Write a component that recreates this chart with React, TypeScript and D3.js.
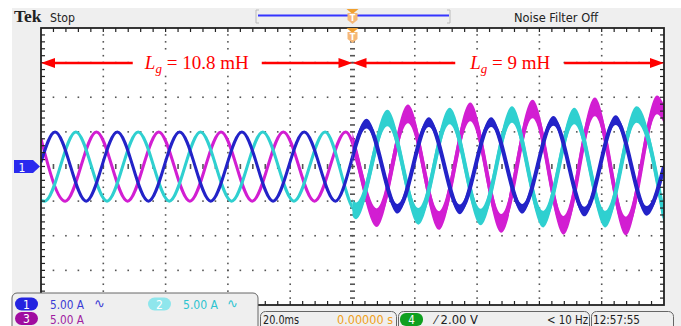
import React from "react";
import * as d3 from "d3";

// phase currents, [time ms, current A] at the read-off extremes
const ch1Blue: [number, number][] = [
  [0, 0.6], [4.5, 5.0], [14.5, -5.0], [24.5, 5.0], [34.5, -5.0], [44.5, 5.0],
  [54.5, -5.0], [64.5, 5.0], [74.5, -5.0], [84.5, 5.0], [94.5, -5.0],
  [104.5, 6.2], [114.5, -6.1], [124.5, 6.4], [134.5, -6.2], [144.5, 6.4],
  [154.5, -6.1], [164.5, 6.6], [174.5, -6.5], [184.5, 6.7], [194.5, -6.4], [200, 0],
];
const ch2Cyan: [number, number][] = [
  [0, -4.9], [1.2, -5.0], [11.2, 5.0], [21.2, -5.0], [31.2, 5.0], [41.2, -5.0],
  [51.2, 5.0], [61.2, -5.0], [71.2, 5.0], [81.2, -5.0], [91.2, 5.0],
  [101.2, -6.4], [111.2, 7.0], [121.2, -7.2], [131.2, 7.3], [141.2, -7.3],
  [151.2, 7.5], [161.2, -7.6], [171.2, 7.3], [181.2, -7.6], [191.2, 7.5], [200, -7.3],
];
const ch3Magenta: [number, number][] = [
  [0, 4.0], [7.8, -5.0], [17.8, 5.0], [27.8, -5.0], [37.8, 5.0], [47.8, -5.0],
  [57.8, 5.0], [67.8, -5.0], [77.8, 5.0], [87.8, -5.0], [97.8, 5.0],
  [107.8, -7.4], [117.8, 7.6], [127.8, -7.8], [137.8, 7.9], [147.8, -8.2],
  [157.8, 8.3], [167.8, -8.5], [177.8, 8.6], [187.8, -8.6], [197.8, 8.9], [200, 7.6],
];
// switching ripple (half band, A) after the step
const rippleAfter = [0.7, 1.2, 1.35]; // blue, cyan, magenta

const switchTime = 100; // ms, Lg step
const leftLabel = "10.8 mH";
const rightLabel = "9 mH";
const channelScale = ["5.00 A", "5.00 A", "5.00 A"];
const timeBase = "20.0ms";
const trigDelay = "0.00000 s";
const trigLevel = "2.00 V";
const freqText = "< 10 Hz";
const clockText = "12:57:55";

const BLUE = "#2323c8";
const CYAN = "#2fd0d0";
const MAGENTA = "#d21ed2";
const RED = "#ff0000";
const UI = "'Liberation Sans Narrow', 'DejaVu Sans Condensed', 'Liberation Sans', sans-serif";

export default function App() {
  const x = d3.scaleLinear().domain([0, 200]).range([41, 664]);
  const y = d3.scaleLinear().domain([-20, 20]).range([305, 28]);
  const line = d3
    .line<[number, number]>()
    .x((d) => x(d[0]))
    .y((d) => y(d[1]))
    .curve(d3.curveMonotoneX);
  const band = (r: number) =>
    d3
      .area<[number, number]>()
      .x((d) => x(d[0]))
      .y0((d) => y(d[1] - r))
      .y1((d) => y(d[1] + r))
      .curve(d3.curveMonotoneX);

  const majorX = d3.range(20, 200, 20).filter((v) => v !== 100);
  const majorY = d3.range(-15, 16, 5).filter((v) => v !== 0);
  const minorX = d3.range(4, 200, 4);
  const minorY = d3.range(-19, 20, 1);
  const [x0, x1] = x.range();
  const [yb, yt] = y.range();
  const xs = x(switchTime);

  const traces = [
    { d: ch3Magenta, c: MAGENTA, r: rippleAfter[2] },
    { d: ch2Cyan, c: CYAN, r: rippleAfter[1] },
    { d: ch1Blue, c: BLUE, r: rippleAfter[0] },
  ];

  const marker = (ty: number) => (
    <g>
      <polygon points={`${xs - 6},${ty} ${xs + 6},${ty} ${xs},${ty + 5}`} fill="#f0a030" />
      <polygon
        points={`${xs - 5},${ty + 4} ${xs + 5},${ty + 4} ${xs + 5},${ty + 11} ${xs},${ty + 15} ${xs - 5},${ty + 11}`}
        fill="#f5b878"
      />
      <text x={xs} y={ty + 12} fontSize={9} fill="#fff" textAnchor="middle" fontFamily={UI} fontWeight="bold">T</text>
    </g>
  );

  const pill = (px: number, py: number, fill: string, label: string) => (
    <g>
      <rect x={px} y={py} width={23} height={13} rx={6.5} fill={fill} />
      <text x={px + 11.5} y={py + 11} fontSize={12} fill="#fff" textAnchor="middle" fontFamily={UI}>{label}</text>
    </g>
  );

  const leftMid = (x0 + xs) / 2;
  const rightMid = (xs + x1) / 2;
  const ay = 63;
  const arrow = (tip: number, dir: number) =>
    `${tip},${ay} ${tip - dir * 14},${ay - 5} ${tip - dir * 14},${ay + 5}`;

  return (
    <svg width={681} height={326} style={{ position: "absolute", left: 0, top: 0 }} fontFamily={UI}>
      <defs>
        <clipPath id="pre"><rect x={x0} y={yt} width={xs - x0} height={yb - yt} /></clipPath>
        <clipPath id="post"><rect x={xs} y={yt} width={x1 - xs} height={yb - yt} /></clipPath>
      </defs>
      <rect width={681} height={326} fill="#fff" />
      <rect x={12} y={8} width={669} height={318} fill="#efefef" />
      <rect x={x0} y={yt} width={x1 - x0} height={yb - yt} fill="#fff" />

      {/* header */}
      <text x={14} y={21.5} fontSize={17.5} fontWeight="bold" fontFamily="'Liberation Serif', serif" fill="#222">Tek</text>
      <text x={50} y={21.5} fontSize={13} fill="#222" textLength={25} lengthAdjust="spacingAndGlyphs">Stop</text>
      <text x={514} y={21.5} fontSize={13} fill="#222" textLength={84} lengthAdjust="spacingAndGlyphs">Noise Filter Off</text>
      <path d="M259,10 h-3 v13 h3 M447,10 h3 v13 h-3" fill="none" stroke="#bbb" strokeWidth={1} />
      <line x1={258} x2={449} y1={15.5} y2={15.5} stroke="#3535ff" strokeWidth={2} />
      {marker(9)}

      {/* graticule */}
      <g fill="#555">
        {majorX.map((gx) =>
          minorY.map((gy) => <rect key={`v${gx}_${gy}`} x={x(gx) - 0.8} y={y(gy) - 0.8} width={1.6} height={1.6} />)
        )}
        {majorY.map((gy) =>
          minorX.map((gx) => <rect key={`h${gx}_${gy}`} x={x(gx) - 0.8} y={y(gy) - 0.8} width={1.6} height={1.6} />)
        )}
        {minorY.map((gy) => <rect key={`cv${gy}`} x={xs - 2.5} y={y(gy) - 0.8} width={5} height={1.6} />)}
        {minorX.map((gx) => <rect key={`ch${gx}`} x={x(gx) - 0.8} y={y(0) - 2.5} width={1.6} height={5} />)}
      </g>

      {/* traces */}
      {traces.map((t, i) => (
        <g key={i}>
          <path d={line(t.d) ?? ""} fill="none" stroke={t.c} strokeWidth={3} clipPath="url(#pre)" />
          <g clipPath="url(#post)">
            <path d={band(t.r)(t.d) ?? ""} fill={t.c} />
            <path d={line(t.d) ?? ""} fill="none" stroke={t.c} strokeWidth={4} />
          </g>
        </g>
      ))}

      <g stroke="#222" strokeWidth={1.2}>
        {minorX.map((gx) => (
          <g key={`bx${gx}`}>
            <line x1={x(gx)} x2={x(gx)} y1={yt} y2={yt + 4} />
            <line x1={x(gx)} x2={x(gx)} y1={yb} y2={yb - 4} />
          </g>
        ))}
        {minorY.map((gy) => (
          <g key={`by${gy}`}>
            <line x1={x0} x2={x0 + 4} y1={y(gy)} y2={y(gy)} />
            <line x1={x1} x2={x1 - 4} y1={y(gy)} y2={y(gy)} />
          </g>
        ))}
      </g>
      <rect x={x0} y={yt} width={x1 - x0} height={yb - yt} fill="none" stroke="#222" strokeWidth={1.8} />
      {marker(28)}

      {/* channel 1 ground marker */}
      <polygon points={`14,${y(0) - 6.5} 33,${y(0) - 6.5} 40,${y(0)} 33,${y(0) + 6.5} 14,${y(0) + 6.5}`} fill="#2a2aee" />
      <text x={22} y={y(0) + 5} fontSize={12} fill="#fff" textAnchor="middle">1</text>

      {/* inductance annotation */}
      <rect x={leftMid - 60} y={ay - 12} width={120} height={24} fill="#fff" />
      <rect x={rightMid - 48} y={ay - 12} width={100} height={24} fill="#fff" />
      <g stroke={RED} strokeWidth={2.6}>
        <line x1={x0 + 12} x2={leftMid - 64} y1={ay} y2={ay} />
        <line x1={leftMid + 65} x2={xs - 12} y1={ay} y2={ay} />
        <line x1={xs + 12} x2={rightMid - 53} y1={ay} y2={ay} />
        <line x1={rightMid + 56} x2={x1 - 12} y1={ay} y2={ay} />
      </g>
      <g fill={RED}>
        <polygon points={arrow(x0, -1)} />
        <polygon points={arrow(xs, 1)} />
        <polygon points={arrow(xs, -1)} />
        <polygon points={arrow(x1, 1)} />
      </g>
      <g fill={RED} fontFamily="'Liberation Serif', serif" fontSize={19}>
        <text x={leftMid} y={ay + 6} textAnchor="middle">
          <tspan fontStyle="italic">L</tspan>
          <tspan fontStyle="italic" fontSize={13} dy={4}>g</tspan>
          <tspan dy={-4}>{` = ${leftLabel}`}</tspan>
        </text>
        <text x={rightMid + 2} y={ay + 6} textAnchor="middle">
          <tspan fontStyle="italic">L</tspan>
          <tspan fontStyle="italic" fontSize={13} dy={4}>g</tspan>
          <tspan dy={-4}>{` = ${rightLabel}`}</tspan>
        </text>
      </g>

      {/* channel readouts */}
      <rect x={12} y={293} width={246} height={45} rx={5} fill="#efefef" stroke="#666" strokeWidth={1} />
      {pill(15, 297.5, "#2424e0", "1")}
      <text x={50} y={309} fontSize={13} fill="#3a3ad4" textLength={34} lengthAdjust="spacingAndGlyphs">{channelScale[0]}</text>
      <text x={94} y={308} fontSize={13} fill="#3a3ad4" fontFamily="'DejaVu Sans', sans-serif">∿</text>
      {pill(148, 297.5, "#8fe6ec", "2")}
      <text x={183} y={309} fontSize={13} fill="#2cc4d0" textLength={35} lengthAdjust="spacingAndGlyphs">{channelScale[1]}</text>
      <text x={227} y={308} fontSize={13} fill="#2cc4d0" fontFamily="'DejaVu Sans', sans-serif">∿</text>
      {pill(15, 312, "#a00ca0", "3")}
      <text x={50} y={323.5} fontSize={12} fill="#a01ca0" textLength={34} lengthAdjust="spacingAndGlyphs">{channelScale[2]}</text>

      <rect x={260.5} y={311.5} width={136} height={30} rx={5} fill="#efefef" stroke="#666" />
      <text x={263} y={323.5} fontSize={12} fill="#222" textLength={36} lengthAdjust="spacingAndGlyphs">{timeBase}</text>
      <text x={393} y={323.5} fontSize={12} fill="#f0a020" textAnchor="end" textLength={56} lengthAdjust="spacingAndGlyphs">{trigDelay}</text>
      <rect x={398.5} y={311.5} width={191} height={30} rx={5} fill="#efefef" stroke="#666" />
      <rect x={400} y={313} width={23} height={13} rx={6} fill="#10a020" />
      <text x={411.5} y={323.5} fontSize={11.5} fill="#fff" textAnchor="middle">4</text>
      <text x={435} y={323.5} fontSize={12} fill="#222" textLength={43} lengthAdjust="spacingAndGlyphs">{`⁄ ${trigLevel}`}</text>
      <text x={588} y={323.5} fontSize={12} fill="#222" textAnchor="end" textLength={41} lengthAdjust="spacingAndGlyphs">{freqText}</text>
      <rect x={591.5} y={311.5} width={82} height={30} rx={5} fill="#efefef" stroke="#666" />
      <text x={593} y={323.5} fontSize={12} fill="#222" textLength={47} lengthAdjust="spacingAndGlyphs">{clockText}</text>
    </svg>
  );
}
